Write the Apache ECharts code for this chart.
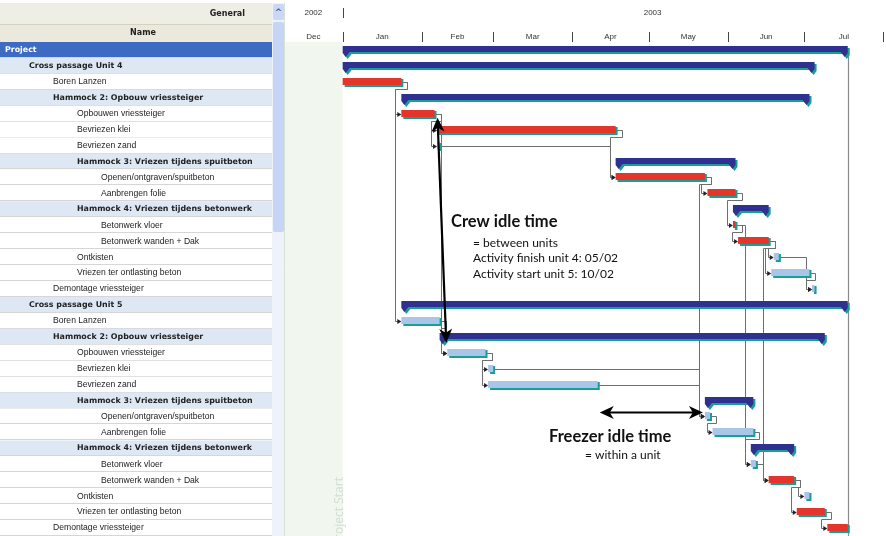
<!DOCTYPE html>
<html>
<head>
  <meta http-equiv="Content-Type" content="text/html; charset=utf-8"/>
  <title>Planning vriezen dwarsverbindingen</title>
  <script src="https://cdn.jsdelivr.net/npm/echarts@6/dist/echarts.min.js"></script>
  <style>
    html, body { margin:0; padding:0; background:#fff; }
    #main { width:886px; height:536px; }
  </style>
</head>
<body>
<div id="main"></div>
<script type="text/javascript">
// --- data -----------------------------------------------------------------
var taskNames = [
  'Project',
  'Cross passage Unit 4',
  'Boren Lanzen',
  'Hammock 2: Opbouw vriessteiger',
  'Opbouwen vriessteiger',
  'Bevriezen klei',
  'Bevriezen zand',
  'Hammock 3: Vriezen tijdens spuitbeton',
  'Openen/ontgraven/spuitbeton',
  'Aanbrengen folie',
  'Hammock 4: Vriezen tijdens betonwerk',
  'Betonwerk vloer',
  'Betonwerk wanden + Dak',
  'Ontkisten',
  'Vriezen ter ontlasting beton',
  'Demontage vriessteiger',
  'Cross passage Unit 5',
  'Boren Lanzen',
  'Hammock 2: Opbouw vriessteiger',
  'Opbouwen vriessteiger',
  'Bevriezen klei',
  'Bevriezen zand',
  'Hammock 3: Vriezen tijdens spuitbeton',
  'Openen/ontgraven/spuitbeton',
  'Aanbrengen folie',
  'Hammock 4: Vriezen tijdens betonwerk',
  'Betonwerk vloer',
  'Betonwerk wanden + Dak',
  'Ontkisten',
  'Vriezen ter ontlasting beton',
  'Demontage vriessteiger'
];
var levels = [0,1,2,2,3,3,3,3,4,4,3,4,4,3,3,2, 1,2,2,3,3,3,3,4,4,3,4,4,3,3,2];
// S = summary / hammock, C = critical task, N = normal task
var kinds  = ['S','S','C','S','C','C','N','S','C','C','S','C','C','N','N','N',
              'S','N','S','N','N','N','S','N','N','S','N','C','N','C','C'];
var taskStart = [
  '2003-01-01','2003-01-01','2003-01-01','2003-01-24','2003-01-24','2003-02-07','2003-02-07','2003-04-18',
  '2003-04-18','2003-05-24','2003-06-03','2003-06-03','2003-06-05','2003-06-19','2003-06-18','2003-07-04',
  '2003-01-24','2003-01-24','2003-02-08','2003-02-11','2003-02-27','2003-02-27','2003-05-23','2003-05-23',
  '2003-05-26','2003-06-10','2003-06-10','2003-06-17','2003-07-01','2003-06-28','2003-07-10'
];
var taskEnd = [
  '2003-07-18','2003-07-05','2003-01-24','2003-07-03','2003-02-06','2003-04-18','2003-02-08','2003-06-04',
  '2003-05-23','2003-06-04','2003-06-17','2003-06-04','2003-06-17','2003-06-21','2003-07-03','2003-07-05',
  '2003-07-18','2003-02-08','2003-07-09','2003-02-26','2003-03-01','2003-04-11','2003-06-11','2003-05-25',
  '2003-06-11','2003-06-27','2003-06-12','2003-06-27','2003-07-03','2003-07-09','2003-07-18'
];
// finish-to-start links [predecessor row, successor row]
var links = [
  [2,4],[2,17],[4,5],[4,6],[4,19],[5,8],[6,8],[8,9],[8,23],[9,11],[11,12],[11,26],
  [12,13],[12,14],[12,27],[13,15],[14,15],[17,19],[19,20],[19,21],[20,23],[21,23],
  [23,24],[24,26],[26,27],[27,28],[27,29],[29,30]
];
// idle time arrows [from row (end), to row (start)]
var idleArrows = [[4,19],[21,23]];

var monthStarts = ['2002-12-01','2003-01-01','2003-02-01','2003-03-01','2003-04-01',
                   '2003-05-01','2003-06-01','2003-07-01','2003-08-01'];
var monthLabels = ['Dec','Jan','Feb','Mar','Apr','May','Jun','Jul'];
var yearLabels = ['2002','2003'];
var yearSpans  = [['2002-12-01','2003-01-01'],['2003-01-01','2003-09-01']];
var axisMin = '2002-12-09', axisMax = '2003-08-02';

// --- helpers ----------------------------------------------------------------
function ts(s){
  var p = s.split('-');
  return new Date(+p[0], +p[1]-1, +p[2]).getTime();
}
var TEAL = '#1b9d95', BLUE = '#2e318f', RED = '#e4352c', LIGHT = '#a8c6e8', LINK = '#6f6f6f';
var TOP = 42, ROWS_H = 494;

function crisp(v){ return Math.round(v) + 0.5; }

// --- table on the left ------------------------------------------------------
function renderRow(params, api){
  var i = api.value(1);
  var c = api.coord([0, i]);
  var h = api.size([0, 1])[1];
  var cs = params.coordSys;
  var y0 = c[1] - h/2;
  var isSum = kinds[i] === 'S';
  var bg = i === 0 ? '#3d6bc4' : (isSum ? '#dde8f4' : '#ffffff');
  var tx = api.coord([levels[i] === 0 ? 5 : 5 + levels[i]*24, i])[0];
  return {
    type:'group',
    children:[
      {type:'rect', shape:{x:cs.x, y:y0, width:cs.width, height:h}, style:{fill:bg}},
      {type:'line', shape:{x1:cs.x, y1:crisp(y0+h-1), x2:cs.x+cs.width, y2:crisp(y0+h-1)},
        style:{stroke:'#d6d6d6', lineWidth:1}},
      {type:'text', x:tx, y:c[1],
        style:{text:taskNames[i], fill: i === 0 ? '#ffffff' : '#222222',
          font: isSum ? 'bold 7.9px "DejaVu Sans"' : '8.6px "Liberation Sans"',
          align:'left', verticalAlign:'middle'}}
    ]
  };
}

// --- timescale header -------------------------------------------------------
function renderMonth(params, api){
  var cs = params.coordSys;
  var x0 = api.coord([api.value(0), 0])[0];
  var x1 = api.coord([api.value(1), 0])[0];
  var a = Math.max(x0, cs.x), b = Math.min(x1, cs.x + cs.width);
  var children = [
    {type:'text', x:(a+b)/2, y:37,
      style:{text:monthLabels[params.dataIndex], fill:'#333', font:'8px "Liberation Sans"',
        align:'center', verticalAlign:'middle'}}
  ];
  if (x1 <= cs.x + cs.width + 1) {
    children.push({type:'line', shape:{x1:crisp(x1), y1:32, x2:crisp(x1), y2:42},
      style:{stroke:'#444', lineWidth:1}});
  }
  return {type:'group', children:children};
}
function renderYear(params, api){
  var cs = params.coordSys;
  var x0 = api.coord([api.value(0), 0])[0];
  var x1 = api.coord([api.value(1), 0])[0];
  var a = Math.max(x0, cs.x);
  var children = [
    {type:'text', x:(a+x1)/2, y:13,
      style:{text:yearLabels[params.dataIndex], fill:'#333', font:'8px "Liberation Sans"',
        align:'center', verticalAlign:'middle'}}
  ];
  if (x0 > cs.x) {
    children.push({type:'line', shape:{x1:crisp(x0), y1:8, x2:crisp(x0), y2:18},
      style:{stroke:'#444', lineWidth:1}});
  }
  return {type:'group', children:children};
}

// --- shading before the project start --------------------------------------
function renderStrip(params, api){
  var cs = params.coordSys;
  var x1 = api.coord([api.value(0), 0])[0];
  return {type:'rect', shape:{x:cs.x, y:cs.y, width:x1 - cs.x, height:cs.height},
    style:{fill:'#f1f6ef'}};
}

// --- bars -------------------------------------------------------------------
function renderBar(params, api){
  var i = api.value(0);
  var p1 = api.coord([api.value(1), i]);
  var p2 = api.coord([api.value(2), i]);
  var x1 = p1[0], x2 = Math.max(p2[0], p1[0] + 2.5), c = Math.round(p1[1]);
  if (kinds[i] === 'S') {
    var pts = function(dx, dy){
      return [[x1+dx, c-4+dy],[x2+dx, c-4+dy],[x2+dx, c+3+dy],[x2-3+dx, c+7+dy],[x2-7+dx, c+2+dy],
              [x1+7+dx, c+2+dy],[x1+3+dx, c+7+dy],[x1+dx, c+3+dy]];
    };
    return {type:'group', children:[
      {type:'polygon', shape:{points:pts(2, 2)}, style:{fill:TEAL}},
      {type:'polygon', shape:{points:pts(0, 0)}, style:{fill:BLUE}}
    ]};
  }
  var fill = kinds[i] === 'C' ? RED : LIGHT;
  return {type:'group', children:[
    {type:'rect', shape:{x:x1+2, y:c-3, width:x2-x1, height:8}, style:{fill:TEAL}},
    {type:'rect', shape:{x:x1, y:c-4, width:x2-x1, height:7}, style:{fill:fill}}
  ]};
}

// --- finish-to-start links --------------------------------------------------
function renderLink(params, api){
  var f = api.value(0), t = api.value(1);
  var pe = api.coord([ts(taskEnd[f]), f]);
  var ps = api.coord([ts(taskStart[t]), t]);
  var x1 = Math.max(pe[0], api.coord([ts(taskStart[f]), f])[0] + 2.5);
  var yF = Math.round(pe[1]), yT = Math.round(ps[1]);
  var xs = ps[0], xv = xs - 6;
  var pts;
  if (xv >= x1 + 5) {
    pts = [[x1, yF], [xv, yF], [xv, yT], [xs - 2, yT]];
  } else {
    pts = [[x1, yF], [x1 + 6, yF], [x1 + 6, yF + 7], [xv, yF + 7], [xv, yT], [xs - 2, yT]];
  }
  pts = pts.map(function(p){ return [crisp(p[0]), p[1] + 0.5]; });
  return {type:'group', children:[
    {type:'polyline', shape:{points:pts}, style:{stroke:LINK, lineWidth:1, fill:null}},
    {type:'polygon', shape:{points:[[xs, yT+0.5], [xs-4, yT-2], [xs-4, yT+3]]}, style:{fill:'#222'}}
  ]};
}

// --- project finish line ----------------------------------------------------
function renderFinish(params, api){
  var cs = params.coordSys;
  var p = api.coord([api.value(0), 0]);
  return {type:'line', shape:{x1:crisp(p[0]), y1:p[1] + 2, x2:crisp(p[0]), y2:cs.y + cs.height},
    style:{stroke:'#8a8a8a', lineWidth:1.2}};
}

// --- idle time arrows -------------------------------------------------------
function arrow(a, b){
  var dx = b[0]-a[0], dy = b[1]-a[1], len = Math.sqrt(dx*dx+dy*dy);
  var ux = dx/len, uy = dy/len, nx = -uy, ny = ux, L = 14, W = 6.5;
  function head(tip, dir){
    var bx = tip[0] - dir*ux*L, by = tip[1] - dir*uy*L;
    return {type:'polygon', shape:{points:[tip, [bx + nx*W, by + ny*W], [tip[0] - dir*ux*(L-4), tip[1] - dir*uy*(L-4)], [bx - nx*W, by - ny*W]]},
      style:{fill:'#000'}};
  }
  return [
    {type:'line', shape:{x1:a[0]+ux*8, y1:a[1]+uy*8, x2:b[0]-ux*8, y2:b[1]-uy*8}, style:{stroke:'#000', lineWidth:2.2}},
    head(b, 1), head(a, -1)
  ];
}
function renderIdle(params, api){
  var f = api.value(0), t = api.value(1);
  var pe = api.coord([ts(taskEnd[f]), f]);
  var ps = api.coord([ts(taskStart[t]), t]);
  var a, b;
  if (params.dataIndex === 0) {
    a = [pe[0] + 3, pe[1] + 4];
    b = [ps[0] - 1, ps[1] - 10];
  } else {
    a = [pe[0] + 2, ps[1] - 4];
    b = [ps[0] - 2, ps[1] - 4];
  }
  return {type:'group', children:arrow(a, b)};
}

// --- chart ------------------------------------------------------------------
var chart = echarts.init(document.getElementById('main'), null, {renderer:'canvas'});

var rowIdx = taskNames.map(function(n, i){ return [0, i]; });
var barData = taskNames.map(function(n, i){ return [i, ts(taskStart[i]), ts(taskEnd[i])]; });
var monthData = monthLabels.map(function(m, i){ return [ts(monthStarts[i]), ts(monthStarts[i+1]), 0]; });
var yearData = yearLabels.map(function(y, i){ return [ts(yearSpans[i][0]), ts(yearSpans[i][1]), 0]; });

var option = {
  animation:false,
  backgroundColor:'#ffffff',
  grid:[
    {left:0, top:TOP, width:272, height:ROWS_H},
    {left:284, top:TOP, width:602, height:ROWS_H}
  ],
  xAxis:[
    {type:'value', gridIndex:0, min:0, max:272, show:false},
    {type:'time', gridIndex:1, min:ts(axisMin), max:ts(axisMax), show:false}
  ],
  yAxis:[
    {type:'category', gridIndex:0, data:taskNames, inverse:true, show:false},
    {type:'category', gridIndex:1, data:taskNames, inverse:true, show:false}
  ],
  series:[
    {type:'custom', name:'table', xAxisIndex:0, yAxisIndex:0, renderItem:renderRow,
      data:rowIdx, encode:{x:0, y:1}, clip:false, silent:true, z:1},
    {type:'custom', name:'strip', xAxisIndex:1, yAxisIndex:1, renderItem:renderStrip,
      data:[[ts(taskStart[0]), 0]], encode:{x:0, y:1}, clip:false, silent:true, z:1},
    {type:'custom', name:'months', xAxisIndex:1, yAxisIndex:1, renderItem:renderMonth,
      data:monthData, encode:{x:[0,1], y:2}, clip:false, silent:true, z:2},
    {type:'custom', name:'years', xAxisIndex:1, yAxisIndex:1, renderItem:renderYear,
      data:yearData, encode:{x:[0,1], y:2}, clip:false, silent:true, z:2},
    {type:'custom', name:'links', xAxisIndex:1, yAxisIndex:1, renderItem:renderLink,
      data:links, encode:{x:-1, y:-1}, clip:false, silent:true, z:3},
    {type:'custom', name:'finish', xAxisIndex:1, yAxisIndex:1, renderItem:renderFinish,
      data:[[ts(taskEnd[0]), 0]], encode:{x:0, y:1}, clip:false, silent:true, z:3},
    {type:'custom', name:'bars', xAxisIndex:1, yAxisIndex:1, renderItem:renderBar,
      data:barData, encode:{x:[1,2], y:0}, clip:false, silent:true, z:4},
    {type:'custom', name:'idle', xAxisIndex:1, yAxisIndex:1, renderItem:renderIdle,
      data:idleArrows, encode:{x:-1, y:-1}, clip:false, silent:true, z:6}
  ],
  graphic:[
    // table header
    {type:'rect', shape:{x:0, y:3, width:272, height:21}, style:{fill:'#efeee5'}, z:10},
    {type:'rect', shape:{x:0, y:24, width:272, height:18}, style:{fill:'#ebe9dc'}, z:10},
    {type:'line', shape:{x1:0, y1:24.5, x2:272, y2:24.5}, style:{stroke:'#d4d1c0'}, z:10},
    {type:'text', x:245, y:14, style:{text:'General', font:'bold 8px "DejaVu Sans"', fill:'#222', align:'right', verticalAlign:'middle'}, z:11},
    {type:'text', x:143, y:33, style:{text:'Name', font:'bold 8px "DejaVu Sans"', fill:'#222', align:'center', verticalAlign:'middle'}, z:11},
    // scrollbar
    {type:'rect', shape:{x:272, y:3, width:13, height:533}, style:{fill:'#eef2fb'}, z:10},
    {type:'rect', shape:{x:273, y:4, width:11, height:16, r:2}, style:{fill:'#c9d8f6'}, z:10},
    {type:'text', x:278.5, y:13, style:{text:'^', font:'bold 9px "DejaVu Sans"', fill:'#4d6185', align:'center', verticalAlign:'middle'}, z:11},
    {type:'rect', shape:{x:273, y:22, width:11, height:210, r:2}, style:{fill:'#c6d5f5'}, z:10},
    {type:'line', shape:{x1:284.5, y1:3, x2:284.5, y2:536}, style:{stroke:'#d8e2d4'}, z:10},
    // vertical label
    {type:'text', x:340, y:546, rotation:Math.PI/2,
      style:{text:'Project Start', font:'12px "Open Sans"', fill:'#cfe0d2', align:'left', verticalAlign:'middle'}, z:2},
    // annotations
    {type:'text', x:451, y:222, style:{text:'Crew idle time', font:'bold 16.5px Lato', fill:'#111', align:'left', verticalAlign:'middle'}, z:12},
    {type:'text', x:473, y:243, style:{text:'= between units', font:'12px Lato', fill:'#111', align:'left', verticalAlign:'middle'}, z:12},
    {type:'text', x:473, y:258, style:{text:'Activity finish unit 4: 05/02', font:'12px Lato', fill:'#111', align:'left', verticalAlign:'middle'}, z:12},
    {type:'text', x:473, y:274, style:{text:'Activity start unit 5: 10/02', font:'12px Lato', fill:'#111', align:'left', verticalAlign:'middle'}, z:12},
    {type:'text', x:549, y:437, style:{text:'Freezer idle time', font:'bold 16.5px Lato', fill:'#111', align:'left', verticalAlign:'middle'}, z:12},
    {type:'text', x:585, y:455, style:{text:'= within a unit', font:'12px Lato', fill:'#111', align:'left', verticalAlign:'middle'}, z:12}
  ]
};
chart.setOption(option);
</script>
</body>
</html>
